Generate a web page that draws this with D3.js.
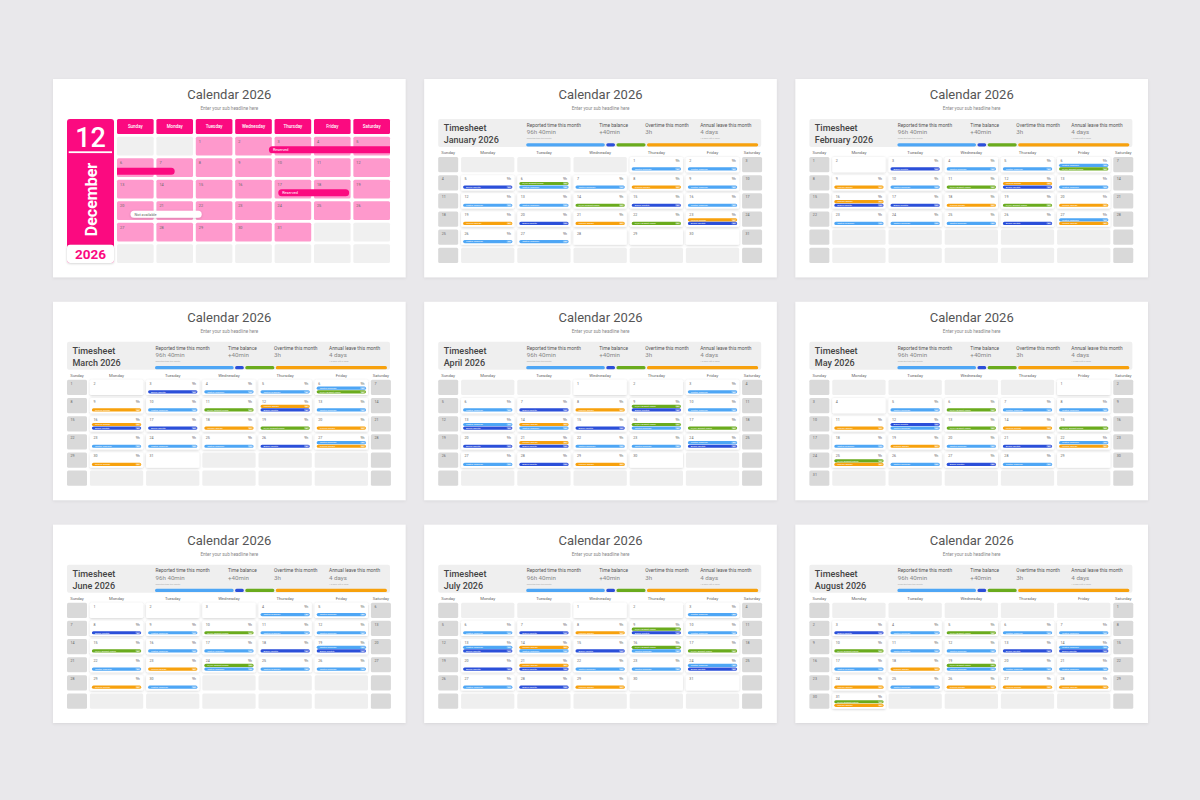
<!DOCTYPE html>
<html>
<head>
<meta charset="utf-8">
<script src="https://cdn.jsdelivr.net/npm/d3@7"></script>
<style>
    body { margin: 0; background: #e9e8eb; }
    svg { display: block; font-family: Roboto, "Noto Sans", sans-serif; }
</style>
</head>
<body>
<svg id="chart" width="1200" height="800"></svg>
<script>
var YEAR = 2026;
var monthNames = ['January', 'February', 'March', 'April', 'May', 'June',
    'July', 'August', 'September', 'October', 'November', 'December'];
var weekdays = ['Sunday', 'Monday', 'Tuesday', 'Wednesday', 'Thursday', 'Friday', 'Saturday'];
// order of the slides, left to right, top to bottom
var slideMonths = [11, 0, 1, 2, 3, 4, 5, 6, 7];

// projects: code -> name / colour
var projectCodes = ['L', 'B', 'G', 'O'];
var projectNames = ['Textile redesign', 'Brand identity', 'UI/UX project check', 'Invoice design'];
var projectColors = ['#4ea6f5', '#2b4fd9', '#6aab1d', '#f7a10d'];
var projectHours = '8h';
var dayHours = '9h';

var statLabels = ['Reported time this month', 'Time balance', 'Overtime this month', 'Annual leave this month'];
var statValues = ['96h 40min', '+40min', '3h', '4 days'];
var statNotes = ['Reported time this month', '', '', '1.5 days left in 2026'];
var progressValues = [78, 10, 30, 110];

// [day, projects in the cell from top to bottom]
var janEvents = [[1, 'L'], [2, 'L'], [5, 'B'], [6, 'GL'], [7, 'L'], [8, 'O'], [9, 'L'],
    [12, 'L'], [13, 'L'], [14, 'G'], [15, 'B'], [16, 'L'], [19, 'O'], [20, 'B'], [21, 'O'],
    [22, 'G'], [23, 'OB'], [26, 'L'], [27, 'L'], [28, ''], [29, ''], [30, '']];
var febEvents = [[2, ''], [3, 'B'], [4, 'L'], [5, 'L'], [6, 'LG'], [9, 'O'], [10, 'L'], [11, 'G'],
    [12, 'OB'], [13, 'L'], [16, 'OB'], [17, 'B'], [18, 'O'], [19, 'G'], [20, 'O'],
    [23, 'L'], [24, 'L'], [25, 'L'], [26, 'B'], [27, 'LO']];
var marEvents = febEvents.concat([[30, 'O'], [31, '']]);
var aprEvents = [[1, ''], [2, ''], [3, 'L'], [6, 'L'], [7, 'B'], [8, 'O'], [9, 'GB'], [10, 'L'],
    [13, 'LB'], [14, 'OL'], [15, 'B'], [16, 'GL'], [17, 'G'], [20, 'B'], [21, 'OB'], [22, 'L'],
    [23, 'L'], [24, 'LB'], [27, 'L'], [28, 'B'], [29, 'O'], [30, '']];
var mayEvents = [[1, ''], [4, ''], [5, 'L'], [6, 'G'], [7, 'L'], [8, 'L'], [11, 'O'], [12, 'BL'],
    [13, 'G'], [14, 'O'], [15, 'G'], [18, 'L'], [19, 'O'], [20, 'L'], [21, 'B'], [22, 'LO'],
    [25, 'GO'], [26, 'L'], [27, 'B'], [28, 'L'], [29, '']];
var junEvents = [[1, ''], [2, ''], [3, ''], [4, 'L'], [5, 'L'], [8, 'B'], [9, 'L'], [10, 'G'],
    [11, 'L'], [12, 'L'], [15, 'G'], [16, 'L'], [17, 'L'], [18, 'B'], [19, 'LB'], [22, 'L'],
    [23, 'O'], [24, 'GL'], [25, 'L'], [26, 'L'], [29, 'O'], [30, 'L']];
var julEvents = aprEvents.concat([[31, '']]);
var augEvents = [[3, 'B'], [4, 'L'], [5, 'G'], [6, 'L'], [7, 'L'], [10, 'G'], [11, 'L'], [12, 'L'],
    [13, 'B'], [14, 'LB'], [17, 'L'], [18, 'O'], [19, 'GL'], [20, 'L'], [21, 'L'], [24, 'O'],
    [25, 'L'], [26, 'O'], [27, 'O'], [28, 'O'], [31, 'GO']];
var eventsByMonth = { 0: janEvents, 1: febEvents, 2: marEvents, 3: aprEvents, 4: mayEvents,
    5: junEvents, 6: julEvents, 7: augEvents };

// December booking bars: [day, fraction of the cell]
var decBookings = [
    { label: 'Reserved', from: [2, 0.92], to: [7, 0.5], kind: 'busy' },
    { label: 'Reserved', from: [17, 0.1], to: [18, 0.96], kind: 'busy' },
    { label: 'Not available', from: [20, 0.37], to: [22, 0.16], kind: 'free' }
];

var PINK = '#fb0a80', PINK_LIGHT = '#fe99cc';

var svg = d3.select('#chart');
var defs = svg.append('defs');
var f1 = defs.append('filter').attr('id', 'slideShadow').attr('x', '-5%').attr('y', '-5%').attr('width', '110%').attr('height', '110%');
f1.append('feDropShadow').attr('dx', 0).attr('dy', 1).attr('stdDeviation', 1.5).attr('flood-opacity', 0.08);
var f2 = defs.append('filter').attr('id', 'cellShadow').attr('x', '-20%').attr('y', '-30%').attr('width', '140%').attr('height', '160%');
f2.append('feDropShadow').attr('dx', 0).attr('dy', 0.6).attr('stdDeviation', 0.8).attr('flood-opacity', 0.2);

var slideX = d3.scaleBand().domain([0, 1, 2]).range([53, 1148]).paddingInner(0.05);
var slideY = d3.scaleBand().domain([0, 1, 2]).range([79, 723]).paddingInner(0.11);
var SW = slideX.bandwidth(), SH = slideY.bandwidth();

var pill = function (x0, x1, y, h, rl, rr) {
    var r = h / 2, p = d3.path();
    p.moveTo(rl ? x0 + r : x0, y);
    if (rr) {
        p.lineTo(x1 - r, y);
        p.arc(x1 - r, y + r, r, -Math.PI / 2, Math.PI / 2);
    } else {
        p.lineTo(x1, y);
        p.lineTo(x1, y + h);
    }
    if (rl) {
        p.lineTo(x0 + r, y + h);
        p.arc(x0 + r, y + r, r, Math.PI / 2, 3 * Math.PI / 2);
    } else {
        p.lineTo(x0, y + h);
    }
    p.closePath();
    return p.toString();
};

var decemberSlide = function (g, m) {
    var first = new Date(YEAR, m, 1).getDay();
    var nDays = new Date(YEAR, m + 1, 0).getDate();
    var col = d3.scaleBand().domain(d3.range(7)).range([64, 337]).paddingInner(0.07);
    var row = d3.scaleBand().domain(d3.range(6)).range([57.7, 184]).paddingInner(0.13);
    var bw = col.bandwidth(), bh = row.bandwidth();

    // side panel
    g.append('rect').attr('x', 14).attr('y', 40).attr('width', 47).attr('height', 144)
        .attr('rx', 3).attr('fill', PINK);
    g.append('text').attr('x', 37.5).attr('y', 68).attr('text-anchor', 'middle')
        .attr('font-size', 27).attr('font-weight', 500).attr('fill', '#fff').text(m + 1);
    g.append('rect').attr('x', 15.7).attr('y', 72.3).attr('width', 43.3).attr('height', 1.8).attr('fill', '#fff');
    g.append('text').attr('transform', 'translate(44,120.5) rotate(-90)').attr('text-anchor', 'middle')
        .attr('font-size', 16).attr('font-weight', 700).attr('fill', '#fff').text(monthNames[m]);
    g.append('rect').attr('x', 14).attr('y', 165.7).attr('width', 47).attr('height', 18.3)
        .attr('rx', 3).attr('fill', '#fff').attr('filter', 'url(#cellShadow)');
    g.append('text').attr('x', 37.5).attr('y', 180).attr('text-anchor', 'middle')
        .attr('font-size', 13.5).attr('font-weight', 700).attr('fill', PINK).text(YEAR);

    // weekday header
    var head = g.selectAll('g.dh').data(weekdays).enter().append('g').attr('class', 'dh');
    head.append('rect').attr('x', function (d, i) { return col(i); }).attr('y', 40)
        .attr('width', bw).attr('height', 15).attr('rx', 1.5).attr('fill', PINK);
    head.append('text').attr('x', function (d, i) { return col(i) + bw / 2; }).attr('y', 49.3)
        .attr('text-anchor', 'middle').attr('font-size', 4.5).attr('font-weight', 500)
        .attr('fill', '#fff').text(function (d) { return d; });

    var cells = d3.range(42).map(function (c) {
        return { c: c % 7, r: Math.floor(c / 7), day: c - first + 1 };
    });
    var cg = g.selectAll('g.cell').data(cells).enter().append('g').attr('class', 'cell');
    cg.append('rect').attr('x', function (d) { return col(d.c); }).attr('y', function (d) { return row(d.r); })
        .attr('width', bw).attr('height', bh).attr('rx', 1.5)
        .attr('fill', function (d) { return d.day >= 1 && d.day <= nDays ? PINK_LIGHT : '#f0f0f0'; });
    cg.filter(function (d) { return d.day >= 1 && d.day <= nDays; })
        .append('text').attr('x', function (d) { return col(d.c) + 3; })
        .attr('y', function (d) { return row(d.r) + 6; })
        .attr('font-size', 3.8).attr('fill', '#666').text(function (d) { return d.day; });

    // booking bars, split by week row
    decBookings.forEach(function (b) {
        var i0 = first + b.from[0] - 1, i1 = first + b.to[0] - 1;
        var r0 = Math.floor(i0 / 7), r1 = Math.floor(i1 / 7);
        d3.range(r0, r1 + 1).forEach(function (r) {
            var x0 = r === r0 ? col(i0 % 7) + b.from[1] * bw : col(0);
            var x1 = r === r1 ? col(i1 % 7) + b.to[1] * bw : col(6) + bw;
            var y = row(r) + 9.6;
            g.append('path').attr('d', pill(x0, x1, y, 7, r === r0, r === r1))
                .attr('fill', b.kind === 'busy' ? PINK : '#fff')
                .attr('filter', b.kind === 'busy' ? null : 'url(#cellShadow)');
            if (r === r0) {
                g.append('text').attr('x', x0 + 4).attr('y', y + 4.9).attr('font-size', 3.8)
                    .attr('fill', b.kind === 'busy' ? '#fff' : '#666').text(b.label);
            }
        });
    });
};

var timesheetSlide = function (g, m) {
    var first = new Date(YEAR, m, 1).getDay();
    var nDays = new Date(YEAR, m + 1, 0).getDate();
    var events = new Map(eventsByMonth[m]);

    // column edges: narrow weekends, wide weekdays
    var widths = [20, 53.3, 53.3, 53.3, 53.3, 53.3, 20], gap = 2.9;
    var colLeft = widths.map(function (w, i) { return 14 + d3.sum(widths.slice(0, i)) + i * gap; });
    var row = d3.scaleBand().domain(d3.range(6)).range([78, 184]).paddingInner(0.16);
    var bh = row.bandwidth();

    // header
    g.append('rect').attr('x', 14).attr('y', 40).attr('width', 323).attr('height', 28)
        .attr('rx', 2).attr('fill', '#efefef');
    g.append('text').attr('x', 19.5).attr('y', 52.4).attr('font-size', 9).attr('font-weight', 500)
        .attr('fill', '#444').text('Timesheet');
    g.append('text').attr('x', 19.5).attr('y', 64).attr('font-size', 9).attr('font-weight', 500)
        .attr('fill', '#444').text(monthNames[m] + ' ' + YEAR);

    var statX = [102.5, 175, 221, 276];
    statLabels.forEach(function (s, i) {
        g.append('text').attr('x', statX[i]).attr('y', 47.8).attr('font-size', 4.8).attr('fill', '#555').text(s);
        g.append('text').attr('x', statX[i]).attr('y', 55.4).attr('font-size', 6.2).attr('fill', '#888').text(statValues[i]);
        if (statNotes[i]) {
            g.append('text').attr('x', statX[i]).attr('y', 60.3).attr('font-size', 2.2).attr('fill', '#aaa').text(statNotes[i]);
        }
    });

    var px = d3.scaleLinear().domain([0, d3.sum(progressValues)]).range([102, 334]);
    var acc = 0;
    progressValues.forEach(function (v, i) {
        var x0 = px(acc) + (i ? 0.7 : 0), x1 = px(acc + v) - (i < progressValues.length - 1 ? 0.7 : 0);
        g.append('path').attr('d', pill(x0, x1, 64.2, 3.2, true, true)).attr('fill', projectColors[i]);
        acc += v;
    });

    // weekday labels
    weekdays.forEach(function (d, i) {
        g.append('text').attr('x', colLeft[i] + widths[i] / 2).attr('y', 75.3)
            .attr('text-anchor', 'middle').attr('font-size', 4.2).attr('fill', '#666').text(d);
    });

    d3.range(42).forEach(function (c) {
        var ci = c % 7, r = Math.floor(c / 7), day = c - first + 1;
        var inMonth = day >= 1 && day <= nDays, weekend = ci === 0 || ci === 6;
        var x = colLeft[ci], y = row(r), w = widths[ci];
        var fill = weekend ? '#d9d9d9' : (inMonth ? '#fff' : '#efefef');
        g.append('rect').attr('x', x).attr('y', y).attr('width', w).attr('height', bh).attr('rx', 1.5)
            .attr('fill', fill).attr('filter', inMonth && !weekend ? 'url(#cellShadow)' : null);
        if (!inMonth) return;
        g.append('text').attr('x', x + 3.5).attr('y', y + 5).attr('font-size', 3.6).attr('fill', '#666').text(day);
        var codes = events.get(day) || '';
        if (weekend || !codes.length) return;
        g.append('text').attr('x', x + w - 3.5).attr('y', y + 5).attr('text-anchor', 'end')
            .attr('font-size', 3.6).attr('fill', '#666').text(dayHours);
        codes.split('').forEach(function (code, k) {
            var p = projectCodes.indexOf(code);
            var by = y + bh - 4.9 - (codes.length - 1 - k) * 3.6;
            g.append('path').attr('d', pill(x + 2, x + w - 2, by, 3.2, true, true)).attr('fill', projectColors[p]);
            g.append('text').attr('x', x + 5).attr('y', by + 2.4).attr('font-size', 2.4)
                .attr('fill', '#fff').text(projectNames[p]);
            g.append('path').attr('d', pill(x + w - 7.8, x + w - 2.6, by + 0.45, 2.3, true, true))
                .attr('fill', '#fff').attr('fill-opacity', 0.3);
            g.append('text').attr('x', x + w - 5.2).attr('y', by + 2.4).attr('text-anchor', 'middle')
                .attr('font-size', 2.2).attr('fill', '#fff').text(projectHours);
        });
    });
};

slideMonths.forEach(function (m, i) {
    var g = svg.append('g')
        .attr('transform', 'translate(' + slideX(i % 3) + ',' + slideY(Math.floor(i / 3)) + ')');
    g.append('rect').attr('width', SW).attr('height', SH).attr('fill', '#fff').attr('filter', 'url(#slideShadow)');
    g.append('text').attr('x', SW / 2).attr('y', 20).attr('text-anchor', 'middle')
        .attr('font-size', 13).attr('fill', '#555').text('Calendar ' + YEAR);
    g.append('text').attr('x', SW / 2).attr('y', 31).attr('text-anchor', 'middle')
        .attr('font-size', 4.6).attr('fill', '#888').text('Enter your sub headline here');
    if (m === 11) decemberSlide(g, m);
    else timesheetSlide(g, m);
});
</script>
</body>
</html>
